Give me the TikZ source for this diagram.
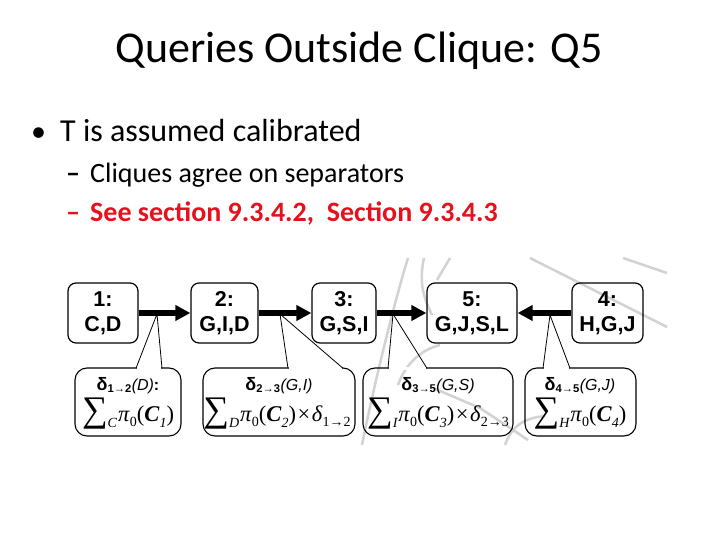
\documentclass[tikz,border=0pt]{standalone}
\usepackage{fontspec}
\setmainfont{Carlito}
\newfontfamily\arialf{Liberation Sans}
\newfontfamily\timesf{Liberation Serif}
\usetikzlibrary{arrows.meta}
\definecolor{slidered}{RGB}{228,18,28}
\definecolor{bggray}{RGB}{210,210,210}
\newcommand{\bigsum}{{\fontsize{36}{36}\selectfont ∑}}
\newcommand{\lowsub}[1]{\raisebox{-0.3em}{\fontsize{14}{14}\selectfont\itshape #1}}
\newcommand{\smallsub}[1]{\raisebox{-0.25em}{\fontsize{14}{14}\selectfont #1}}
\newcommand{\timessym}{\kern1.5pt×\kern1.5pt}
\tikzset{
  clique/.style={draw, line width=1.2pt, rounded corners=8pt, inner sep=0pt,
    minimum height=60pt, align=center,
    font=\arialf\bfseries\fontsize{21.5}{25}\selectfont},
  msg/.style={line width=6.5pt, -{Triangle[length=15pt,width=15pt]}},
  callout/.style={draw, line width=1.1pt, rounded corners=12pt},
  ptr/.style={line width=0.8pt},
  txt/.style={inner sep=0pt, anchor=base west},
  dtxt/.style={inner sep=0pt, anchor=base, font=\arialf\fontsize{16}{18}\selectfont},
  mtxt/.style={inner sep=0pt, anchor=base, font=\timesf\fontsize{22.5}{24}\selectfont},
  deco/.style={draw=bggray, line width=2.5pt}
}
\begin{document}
\begin{tikzpicture}[x=1pt,y=-1pt]
\useasboundingbox (0,0) rectangle (720,540);
% faint background strokes
\path[deco] (408,258) .. controls (395,300) and (375,380) .. (362,445);
\path[deco] (424,258) .. controls (418,285) and (425,300) .. (432,315);
\path[deco] (398,385) .. controls (405,365) and (420,350) .. (440,345);
\path[deco] (450,258) -- (437,280);
\path[deco] (530,258) -- (667,327);
\path[deco] (623,258) -- (667,273);
\path[deco] (433,388) -- (480,408);
\path[deco] (480,408) -- (528,440);
\path[deco] (505,445) .. controls (512,425) and (525,418) .. (545,416);
% title and bullets
\node[inner sep=0pt, anchor=base, font=\fontsize{44}{52}\selectfont] (title) at (359,63) {Queries Outside Clique: Q5};
\node[txt, font=\fontsize{30}{34}\selectfont] (dot) at (31,142) {•};
\node[txt, font=\fontsize{32}{38}\selectfont] (b1) at (60,142) {T is assumed calibrated};
\node[txt, font=\fontsize{28}{33}\selectfont\bfseries] (d1) at (66,183) {–};
\node[txt, font=\fontsize{28}{33}\selectfont] (s1) at (90,183) {Cliques agree on separators};
\node[txt, font=\fontsize{28}{33}\selectfont\bfseries, text=slidered] (d2) at (66,222) {–};
\node[txt, font=\fontsize{28}{33}\selectfont\bfseries, text=slidered] (s2) at (90,222) {See section 9.3.4.2,\ \ Section 9.3.4.3};
% cliques
\node[clique, minimum width=70pt] (n1) at (103,313) {1:\\C,D};
\node[clique, minimum width=67pt] (n2) at (224.5,313) {2:\\G,I,D};
\node[clique, minimum width=64pt] (n3) at (344,313) {3:\\G,S,I};
\node[clique, minimum width=90pt] (n5) at (472,313) {5:\\G,J,S,L};
\node[clique, minimum width=71pt] (n4) at (607.5,313) {4:\\H,G,J};
% messages
\draw[msg] (n1.east) -- (n2.west);
\draw[msg] (n2.east) -- (n3.west);
\draw[msg] (n3.east) -- (n5.west);
\draw[msg] (n4.west) -- (n5.east);
% pointer tips on the arrows
\coordinate (p1) at (157,314);
\coordinate (p2) at (280,314);
\coordinate (p3) at (393,314);
\coordinate (p4) at (550,315);
% callout boxes
\draw[callout] (75,368) rectangle (181,436);
\draw[callout] (203,368) rectangle (355,436);
\draw[callout] (363,368) rectangle (513,436);
\draw[callout] (525,368) rectangle (636,436);
\fill[white] (136.8,366.5) rectangle (161.2,369.6);
\fill[white] (288.8,366.5) rectangle (342.2,369.6);
\fill[white] (388.8,366.5) rectangle (426.2,369.6);
\fill[white] (543.8,366.5) rectangle (569.2,369.6);
\draw[ptr] (136,368.3) -- (p1) -- (162,368.3);
\draw[ptr] (288,368.3) -- (p2) -- (343,368.3);
\draw[ptr] (388,368.3) -- (p3) -- (427,368.3);
\draw[ptr] (543,368.3) -- (p4) -- (570,368.3);
% callout texts
\node[dtxt] (c1a) at (128,390) {{\bfseries{\fontsize{18}{18}\selectfont δ}\textsubscript{\bfseries 1→2}}\textit{(D)}\textbf{:}};
\node[mtxt] (c1b) at (128,421) {\bigsum\lowsub{C}\kern1pt\textit{π}\smallsub{0}(\textbf{\textit{C}}\lowsub{1})};
\node[dtxt] (c2a) at (279,390) {{\bfseries{\fontsize{18}{18}\selectfont δ}\textsubscript{\bfseries 2→3}}\textit{(G,I)}};
\node[mtxt] (c2b) at (277,421) {\bigsum\lowsub{D}\kern1pt\textit{π}\smallsub{0}(\textbf{\textit{C}}\lowsub{2})\timessym\textit{δ}\smallsub{1→2}};
\node[dtxt] (c3a) at (438,390) {{\bfseries{\fontsize{18}{18}\selectfont δ}\textsubscript{\bfseries 3→5}}\textit{(G,S)}};
\node[mtxt] (c3b) at (438,421) {\bigsum\lowsub{I}\kern1pt\textit{π}\smallsub{0}(\textbf{\textit{C}}\lowsub{3})\timessym\textit{δ}\smallsub{2→3}};
\node[dtxt] (c4a) at (580,390) {{\bfseries{\fontsize{18}{18}\selectfont δ}\textsubscript{\bfseries 4→5}}\textit{(G,J)}};
\node[mtxt] (c4b) at (580,421) {\bigsum\lowsub{H}\kern1pt\textit{π}\smallsub{0}(\textbf{\textit{C}}\lowsub{4})};
\end{tikzpicture}
\end{document}
